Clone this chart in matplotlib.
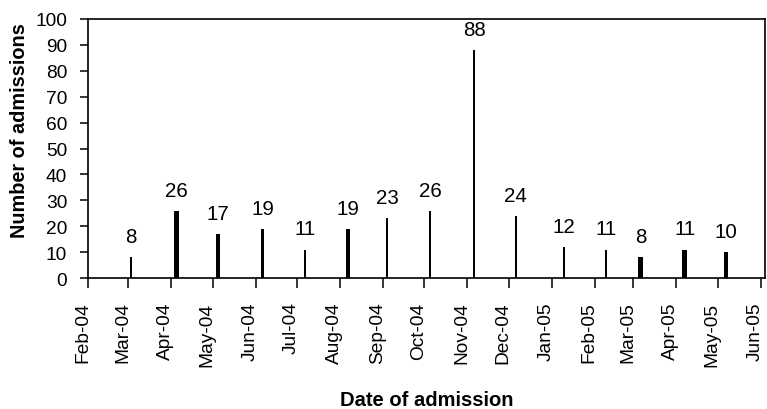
import datetime as dt

import matplotlib
matplotlib.use('Agg')
import matplotlib.pyplot as plt
import matplotlib.dates as mdates
import matplotlib.transforms as mtransforms

# ~ DATA ~
admission_dates = [
    '2004-03-03', '2004-04-05', '2004-05-05', '2004-06-06', '2004-07-07',
    '2004-08-07', '2004-09-04', '2004-10-05', '2004-11-06', '2004-12-06',
    '2005-01-10', '2005-02-09', '2005-03-06', '2005-04-07', '2005-05-07',
]
admissions = [8, 26, 17, 19, 11, 19, 23, 26, 88, 24, 12, 11, 8, 11, 10]
# some of the bars in the original are drawn wider than others
is_wide = [False, True, True, False, False,
           True, False, False, False, False,
           False, False, True, True, True]

axis_start = dt.date(2004, 2, 1)
axis_end = dt.date(2005, 6, 4)

plt.rcParams['font.family'] = ['Liberation Sans', 'DejaVu Sans']

fig = plt.figure(figsize=(7.67, 4.10), dpi=100)
ax = fig.add_axes([88 / 767, 131 / 410, 677 / 767, 259 / 410])

x = [dt.date.fromisoformat(d) for d in admission_dates]
widths = [3.2 if w else 1.6 for w in is_wide]
ax.bar(x, admissions, width=widths, color='black', align='center')

for xi, yi in zip(x, admissions):
    ax.annotate(str(yi), xy=(xi, yi), xytext=(0, 8), textcoords='offset points',
                ha='center', va='bottom', fontsize=14.8)

ax.set_xlim(axis_start, axis_end)
ax.set_ylim(0, 100)
ax.set_yticks(range(0, 101, 10))

ax.xaxis.set_major_locator(mdates.MonthLocator())
ax.xaxis.set_major_formatter(mdates.DateFormatter('%b-%y'))
ax.tick_params(axis='x', rotation=90, labelsize=13.8, length=7, width=1.1, pad=10)
ax.tick_params(axis='y', labelsize=13.8, length=6, width=1.1, pad=9)

# the rotated month labels sit a little left of their ticks in the original
shift = mtransforms.ScaledTranslation(-4 / 72, 0, fig.dpi_scale_trans)
for lbl in ax.get_xticklabels():
    lbl.set_va('top')
    lbl.set_transform(lbl.get_transform() + shift)

for spine in ax.spines.values():
    spine.set_linewidth(1.2)

ax.set_xlabel('Date of admission', fontsize=14.5, fontweight='bold', va='top')
ax.xaxis.set_label_coords(0.5, -0.432)
ax.set_ylabel('Number of admissions', fontsize=14.3, fontweight='bold')
ax.yaxis.set_label_coords(-0.087, 0.575)

fig.savefig('out.png', dpi=100)
